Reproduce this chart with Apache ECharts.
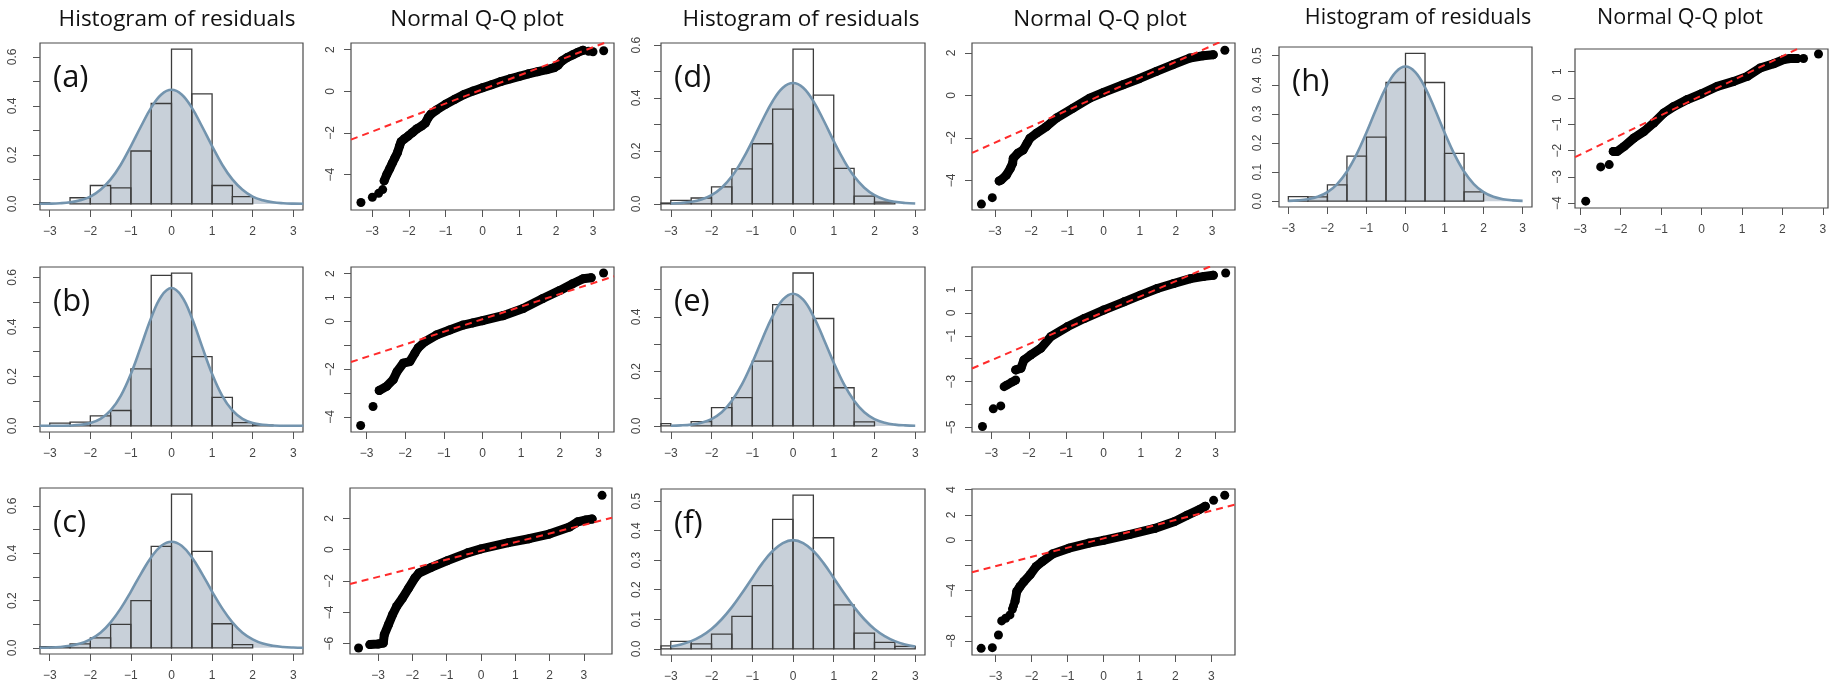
<!DOCTYPE html>
<html>
<head>
<meta charset="utf-8">
<script src="https://cdn.jsdelivr.net/npm/echarts@6/dist/echarts.min.js"></script>
<style>
  html, body { margin: 0; background: #fff; }
  #chart { width: 1838px; height: 689px; }
</style>
</head>
<body>
<div id="chart"></div>
<script>
// shared ticks and bins
const xTicks = [-3, -2, -1, 0, 1, 2, 3]
const binEdges = [-3.5, -3, -2.5, -2, -1.5, -1, -0.5, 0, 0.5, 1, 1.5, 2, 2.5, 3]
const curveXWide = [-3.25, -3, -2.75, -2.5, -2.25, -2, -1.75, -1.5, -1.25, -1, -0.75, -0.5, -0.25, 0,
  0.25, 0.5, 0.75, 1, 1.25, 1.5, 1.75, 2, 2.25, 2.5, 2.75, 3, 3.25]
const curveX = [-3, -2.75, -2.5, -2.25, -2, -1.75, -1.5, -1.25, -1, -0.75, -0.5, -0.25, 0,
  0.25, 0.5, 0.75, 1, 1.25, 1.5, 1.75, 2, 2.25, 2.5, 2.75, 3]

// histogram heights (density), one per bin
const histA = [0.005, 0, 0.025, 0.075, 0.065, 0.216, 0.41, 0.632, 0.449, 0.075, 0.03, 0, 0]
const histB = [0, 0.011, 0.015, 0.04, 0.062, 0.23, 0.608, 0.617, 0.28, 0.115, 0.013, 0.003, 0]
const histC = [0.005, 0.005, 0.017, 0.042, 0.099, 0.2, 0.429, 0.65, 0.408, 0.102, 0.014, 0, 0]
const histD = [0.003, 0.013, 0.022, 0.064, 0.132, 0.227, 0.358, 0.585, 0.411, 0.134, 0.029, 0.006, 0]
const histE = [0.0085, 0, 0.016, 0.067, 0.104, 0.238, 0.445, 0.561, 0.394, 0.14, 0.015, 0, 0]
const histF = [0.01, 0.025, 0.017, 0.05, 0.11, 0.214, 0.438, 0.52, 0.376, 0.149, 0.053, 0.0215, 0.008]
const histH = [0, 0.016, 0.015, 0.056, 0.155, 0.22, 0.408, 0.508, 0.408, 0.164, 0.032, 0, 0]

// fitted density curves
const densA = [0.0003, 0.001, 0.0027, 0.0065, 0.015, 0.03, 0.058, 0.1, 0.16, 0.236, 0.317, 0.393, 0.447, 0.466,
  0.447, 0.393, 0.317, 0.236, 0.16, 0.1, 0.058, 0.03, 0.015, 0.0065, 0.0027, 0.001, 0.0003]
const densB = [0, 0, 0.0004, 0.0012, 0.004, 0.011, 0.028, 0.062, 0.121, 0.21, 0.322, 0.437, 0.524, 0.557,
  0.524, 0.437, 0.322, 0.21, 0.121, 0.062, 0.028, 0.011, 0.004, 0.0012, 0.0004, 0, 0]
const densC = [0.0006, 0.0015, 0.0037, 0.0086, 0.018, 0.036, 0.064, 0.108, 0.167, 0.238, 0.314, 0.383, 0.432, 0.449,
  0.432, 0.383, 0.314, 0.238, 0.167, 0.108, 0.064, 0.036, 0.018, 0.0086, 0.0037, 0.0015, 0.0006]
const densD = [0.0012, 0.0032, 0.0076, 0.0165, 0.033, 0.061, 0.104, 0.164, 0.237, 0.316, 0.388, 0.439, 0.457,
  0.439, 0.388, 0.316, 0.237, 0.164, 0.104, 0.061, 0.033, 0.0165, 0.0076, 0.0032, 0.0012]
const densE = [0.0006, 0.0018, 0.0048, 0.0115, 0.025, 0.05, 0.092, 0.153, 0.232, 0.32, 0.403, 0.463, 0.485,
  0.463, 0.403, 0.32, 0.232, 0.153, 0.092, 0.05, 0.025, 0.0115, 0.0048, 0.0018, 0.0006]
const densF = [0.008, 0.0147, 0.026, 0.043, 0.067, 0.1, 0.141, 0.189, 0.24, 0.29, 0.331, 0.358, 0.368,
  0.358, 0.331, 0.29, 0.24, 0.189, 0.141, 0.1, 0.067, 0.043, 0.026, 0.0147, 0.008]
const densH = [0.0011, 0.0029, 0.0069, 0.015, 0.031, 0.059, 0.102, 0.162, 0.236, 0.317, 0.391, 0.444, 0.463,
  0.444, 0.391, 0.317, 0.236, 0.162, 0.102, 0.059, 0.031, 0.015, 0.0069, 0.0029, 0.0011]

// Q-Q plots: dense run of points, isolated points, reference line ends
const qqBandA = [[-2.67, -4.3], [-2.6, -4.0], [-2.52, -3.72], [-2.45, -3.45], [-2.38, -3.2], [-2.31, -2.95],
  [-2.25, -2.62], [-2.21, -2.42], [-2.12, -2.28], [-2.02, -2.15], [-1.9, -1.98], [-1.78, -1.8], [-1.65, -1.66],
  [-1.55, -1.52], [-1.47, -1.25], [-1.4, -1.1], [-1.25, -0.9], [-1.0, -0.62], [-0.75, -0.38], [-0.5, -0.15],
  [-0.25, 0.02], [0, 0.17], [0.25, 0.32], [0.5, 0.47], [0.75, 0.6], [1.0, 0.72], [1.25, 0.84], [1.5, 0.94],
  [1.75, 1.04], [1.95, 1.14], [2.05, 1.25], [2.15, 1.45], [2.3, 1.62], [2.45, 1.75], [2.6, 1.88], [2.73, 1.97]]
const qqOutA = [[-3.3, -5.34], [-2.99, -5.09], [-2.82, -4.9], [-2.71, -4.72], [2.88, 1.92], [3.0, 1.9], [3.29, 1.95]]
const qqLineA = [[-3.57, -2.32], [3.57, 2.5]]

const qqBandB = [[-2.67, -2.89], [-2.48, -2.72], [-2.31, -2.44], [-2.21, -2.1], [-2.05, -1.75], [-1.88, -1.68],
  [-1.75, -1.33], [-1.66, -1.1], [-1.49, -0.85], [-1.19, -0.57], [-0.85, -0.36], [-0.5, -0.15], [-0.25, -0.06],
  [0, 0.03], [0.53, 0.24], [1.05, 0.54], [1.56, 0.96], [2.0, 1.3], [2.33, 1.58], [2.6, 1.79], [2.81, 1.83]]
const qqOutB = [[-3.15, -4.36], [-2.83, -3.56], [3.13, 2.03]]
const qqLineB = [[-3.4, -1.7], [3.4, 1.89]]

const qqBandC = [[-3.24, -6.06], [-3.0, -6.02], [-2.85, -5.96], [-2.82, -5.43], [-2.7, -4.79], [-2.58, -4.15],
  [-2.46, -3.62], [-2.29, -3.09], [-2.11, -2.45], [-1.93, -1.81], [-1.81, -1.49], [-1.45, -1.13], [-0.98, -0.7],
  [-0.39, -0.2], [0, 0.05], [0.8, 0.45], [1.4, 0.7], [1.99, 1.0], [2.58, 1.45], [2.82, 1.78], [3.06, 1.9], [3.24, 1.96]]
const qqOutC = [[-3.57, -6.28], [3.53, 3.47]]
const qqLineC = [[-3.82, -2.19], [3.82, 2.04]]

const qqBandD = [[-2.88, -4.03], [-2.82, -3.98], [-2.68, -3.75], [-2.57, -3.43], [-2.51, -3.2], [-2.49, -2.96],
  [-2.36, -2.72], [-2.22, -2.57], [-2.11, -2.25], [-2.03, -2.02], [-1.85, -1.78], [-1.57, -1.46], [-1.3, -1.07],
  [-0.84, -0.6], [-0.38, -0.13], [0, 0.14], [0.54, 0.5], [1.0, 0.8], [1.46, 1.13], [1.92, 1.45], [2.38, 1.76],
  [2.75, 1.87], [3.03, 1.92]]
const qqOutD = [[-3.37, -5.12], [-3.07, -4.82], [3.35, 2.13]]
const qqLineD = [[-3.63, -2.71], [3.63, 2.83]]

const qqBandE = [[-2.35, -2.49], [-2.21, -2.42], [-2.13, -2.06], [-1.95, -1.84], [-1.68, -1.55], [-1.41, -1.04],
  [-0.97, -0.61], [-0.52, -0.25], [0, 0.12], [0.55, 0.48], [0.99, 0.77], [1.44, 1.06], [1.88, 1.28], [2.33, 1.49],
  [2.69, 1.59], [2.94, 1.64]]
const qqOutE = [[-3.24, -4.96], [-2.95, -4.19], [-2.75, -4.06], [-2.66, -3.22], [-2.6, -3.16], [-2.53, -3.1],
  [-2.46, -3.03], [-2.4, -2.98], [-2.35, -2.93], [3.27, 1.74]]
const qqLineE = [[-3.52, -2.43], [3.52, 2.49]]

const qqBandF = [[-2.46, -4.87], [-2.41, -4.08], [-2.32, -3.68], [-2.21, -3.28], [-2.04, -2.75], [-1.87, -2.09],
  [-1.7, -1.7], [-1.42, -1.11], [-0.96, -0.64], [-0.4, -0.24], [0, -0.02], [0.74, 0.45], [1.42, 0.92], [1.98, 1.48],
  [2.32, 1.96], [2.66, 2.41], [2.83, 2.68]]
const qqOutF = [[-3.4, -8.58], [-3.09, -8.53], [-2.92, -7.52], [-2.83, -6.41], [-2.72, -6.2], [-2.6, -5.93],
  [-2.53, -5.46], [-2.5, -5.2], [3.06, 3.15], [3.37, 3.55]]
const qqLineF = [[-3.655, -2.55], [3.655, 2.81]]

const qqBandH = [[-2.18, -2.03], [-2.08, -2.03], [-1.91, -1.84], [-1.67, -1.52], [-1.42, -1.27], [-1.18, -0.95],
  [-0.93, -0.57], [-0.68, -0.32], [-0.35, -0.06], [0, 0.16], [0.39, 0.44], [0.8, 0.63], [1.13, 0.82], [1.45, 1.14],
  [1.78, 1.3], [2.03, 1.46], [2.19, 1.5], [2.36, 1.5]]
const qqOutH = [[-2.86, -3.92], [-2.49, -2.62], [-2.28, -2.53], [2.52, 1.5], [2.89, 1.67]]
const qqLineH = [[-3.125, -2.25], [3.125, 2.43]]

const chart = echarts.init(document.getElementById('chart'))

const grid = [], xAxis = [], yAxis = [], series = [], graphic = []
const tickColor = '#555'
const labelStyle = { fontSize: 12, color: '#444', fontFamily: '"Liberation Sans", Arial, sans-serif' }
const minus = v => String(v).replace('-', '\u2212')

function addGrid(box, xr, yr, yTicks, yLabels, yFmt, yMargin) {
  const i = grid.length
  grid.push({ left: box[0], top: box[1], width: box[2], height: box[3], show: true, borderColor: '#4a4a4a', borderWidth: 1.2 })
  xAxis.push({
    type: 'value', gridIndex: i, min: xr[0], max: xr[1],
    axisLine: { show: false, onZero: false }, splitLine: { show: false },
    axisTick: { length: 7, customValues: xTicks, lineStyle: { color: tickColor } },
    axisLabel: Object.assign({ customValues: xTicks, margin: 16, formatter: minus }, labelStyle)
  })
  yAxis.push({
    type: 'value', gridIndex: i, min: yr[0], max: yr[1],
    axisLine: { show: false, onZero: false }, splitLine: { show: false },
    axisTick: { length: 7, customValues: yTicks, lineStyle: { color: tickColor } },
    axisLabel: Object.assign({ customValues: yLabels, margin: yMargin, rotate: 90, formatter: yFmt }, labelStyle)
  })
  return i
}

function addHist(box, tag, heights, xs, dens, yr, yTicks, yLabels, yMargin) {
  const i = addGrid(box, [-3.24, 3.24], yr, yTicks, yLabels, v => v.toFixed(1), yMargin)
  const curve = xs.map((x, k) => [x, dens[k]])
  series.push({
    type: 'line', xAxisIndex: i, yAxisIndex: i, data: curve, smooth: 0.4, symbol: 'none',
    lineStyle: { width: 0 }, areaStyle: { color: '#c8d0d9', opacity: 1 }, z: 1, silent: true
  })
  series.push({
    type: 'custom', xAxisIndex: i, yAxisIndex: i, z: 2, silent: true,
    data: heights.map((h, k) => [binEdges[k], binEdges[k + 1], h]),
    encode: { x: [0, 1], y: 2 },
    renderItem(params, api) {
      const h = api.value(2)
      if (!h) return
      const p0 = api.coord([api.value(0), 0])
      const p1 = api.coord([api.value(1), h])
      const cs = params.coordSys
      const rect = echarts.graphic.clipRectByRect(
        { x: p0[0], y: p1[1], width: p1[0] - p0[0], height: p0[1] - p1[1] },
        { x: cs.x, y: cs.y, width: cs.width, height: cs.height })
      return rect && { type: 'rect', shape: rect, style: { fill: 'none', stroke: '#3c3c3c', lineWidth: 1.3 } }
    }
  })
  series.push({
    type: 'line', xAxisIndex: i, yAxisIndex: i, data: curve, smooth: 0.4, symbol: 'none',
    lineStyle: { width: 2.6, color: '#7394ae' }, z: 3, silent: true
  })
  graphic.push({
    type: 'text', x: box[0] + 13, y: box[1] + 35, z: 10,
    style: { text: tag, font: '31px "Open Sans"', fill: '#111', textVerticalAlign: 'middle' }
  })
}

function addQQ(box, xr, yr, yTicks, yLabels, yMargin, band, outs, ends) {
  const i = addGrid(box, xr, yr, yTicks, yLabels, minus, yMargin)
  series.push({
    type: 'line', xAxisIndex: i, yAxisIndex: i, data: band, symbol: 'circle', symbolSize: 9, showSymbol: true,
    itemStyle: { color: '#000' }, lineStyle: { width: 9, color: '#000', cap: 'round', join: 'round' }, z: 2, silent: true
  })
  series.push({
    type: 'scatter', xAxisIndex: i, yAxisIndex: i, data: outs, symbolSize: 9,
    itemStyle: { color: '#000', opacity: 1 }, z: 2, silent: true
  })
  series.push({
    type: 'line', xAxisIndex: i, yAxisIndex: i, data: ends, symbol: 'none',
    lineStyle: { width: 2, color: '#ff2b2b', type: [7, 5] }, z: 4, silent: true
  })
}

function addTitle(x, y, text, size) {
  graphic.push({
    type: 'text', x: x, y: y, z: 10,
    style: { text: text, font: size + 'px "Open Sans"', fill: '#111', textAlign: 'center', textVerticalAlign: 'middle' }
  })
}

const histTicks6 = [0, 0.1, 0.2, 0.3, 0.4, 0.5, 0.6]
const histTicks5 = [0, 0.1, 0.2, 0.3, 0.4, 0.5]

addHist([40, 43, 263, 167], '(a)', histA, curveXWide, densA, [-0.025, 0.657], histTicks6, [0, 0.2, 0.4, 0.6], 21)
addHist([40, 267, 263, 165], '(b)', histB, curveXWide, densB, [-0.025, 0.642], histTicks6, [0, 0.2, 0.4, 0.6], 21)
addHist([40, 488, 263, 166], '(c)', histC, curveXWide, densC, [-0.026, 0.676], histTicks6, [0, 0.2, 0.4, 0.6], 21)
addHist([661, 43, 264, 167], '(d)', histD, curveX, densD, [-0.0234, 0.608], histTicks6, [0, 0.2, 0.4, 0.6], 18)
addHist([661, 267, 264, 165], '(e)', histE, curveX, densE, [-0.0224, 0.583], histTicks5, [0, 0.2, 0.4], 18)
addHist([661, 489, 264, 166], '(f)', histF, curveX, densF, [-0.021, 0.541], histTicks5, histTicks5, 18)
addHist([1279, 47, 253, 160], '(h)', histH, curveX, densH, [-0.02, 0.53], histTicks5, histTicks5, 15)

addQQ([351, 43, 263, 167], [-3.57, 3.57], [-5.7, 2.32], [-4, -2, 0, 2], [-4, -2, 0, 2], 14, qqBandA, qqOutA, qqLineA)
addQQ([351, 267, 263, 165], [-3.4, 3.4], [-4.63, 2.28], [-4, -3, -2, -1, 0, 1, 2], [-4, -2, 0, 1, 2], 14, qqBandB, qqOutB, qqLineB)
addQQ([350, 488, 262, 166], [-3.82, 3.82], [-6.66, 3.94], [-6, -4, -2, 0, 2], [-6, -4, -2, 0, 2], 14, qqBandC, qqOutC, qqLineC)
addQQ([972, 43, 263, 167], [-3.63, 3.63], [-5.4, 2.47], [-4, -2, 0, 2], [-4, -2, 0, 2], 14, qqBandD, qqOutD, qqLineD)
addQQ([972, 267, 263, 165], [-3.52, 3.52], [-5.2, 2.0], [-5, -4, -3, -2, -1, 0, 1], [-5, -3, -1, 0, 1], 14, qqBandE, qqOutE, qqLineE)
addQQ([972, 489, 263, 166], [-3.655, 3.655], [-9.11, 4.05], [-8, -6, -4, -2, 0, 2, 4], [-8, -4, 0, 2, 4], 14, qqBandF, qqOutF, qqLineF)
addQQ([1575, 49, 253, 159], [-3.125, 3.125], [-4.18, 1.86], [-4, -3, -2, -1, 0, 1], [-4, -3, -2, -1, 0, 1], 11, qqBandH, qqOutH, qqLineH)

addTitle(177, 20, 'Histogram of residuals', 22.5)
addTitle(477, 20, 'Normal Q-Q plot', 22.5)
addTitle(801, 20, 'Histogram of residuals', 22.5)
addTitle(1100, 20, 'Normal Q-Q plot', 22.5)
addTitle(1418, 18, 'Histogram of residuals', 21.5)
addTitle(1680, 18, 'Normal Q-Q plot', 21.5)

chart.setOption({
  animation: false,
  backgroundColor: '#fff',
  grid, xAxis, yAxis, series, graphic
})
</script>
</body>
</html>
